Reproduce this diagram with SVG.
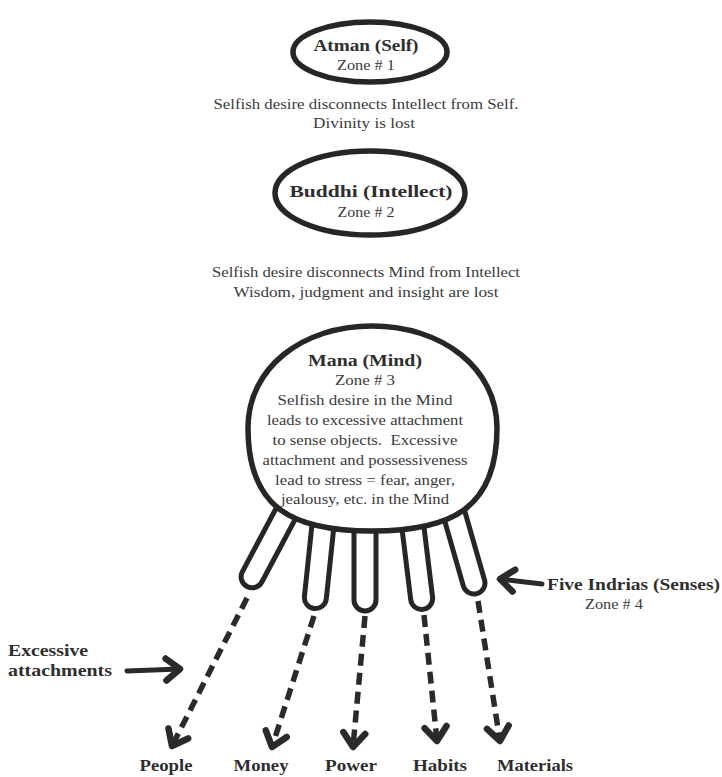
<svg xmlns="http://www.w3.org/2000/svg" width="722" height="777" viewBox="0 0 722 777">
<style>
.t{font-family:"Liberation Serif","Times New Roman",serif;font-size:15px;fill:#3a3a3a;text-anchor:middle}
.b{font-family:"Liberation Serif","Times New Roman",serif;font-size:17px;font-weight:bold;fill:#2e2e2e;text-anchor:middle}
.bl{font-family:"Liberation Serif","Times New Roman",serif;font-size:16px;font-weight:bold;fill:#2e2e2e}
.ring{fill:#fff;stroke:#262626;stroke-width:5.5}
.finger{fill:none;stroke:#262626;stroke-width:5;stroke-linejoin:round}
.dash{fill:none;stroke:#2a2a2a;stroke-width:5.5;stroke-dasharray:12 7;stroke-linecap:butt}
.solid{fill:none;stroke:#2a2a2a;stroke-width:5;stroke-linecap:round}
</style>
<defs>
<marker id="ah" viewBox="-20 -15 30 30" markerWidth="30" markerHeight="30" refX="0" refY="0" orient="auto" markerUnits="userSpaceOnUse">
<path d="M-14,-11 L0,0 L-14,11" fill="none" stroke="#2a2a2a" stroke-width="6.5" stroke-linecap="round" stroke-linejoin="round"/>
</marker>
</defs>
<rect width="722" height="777" fill="#fff"/>

<g id="atman">
<ellipse class="ring" cx="370" cy="52" rx="77" ry="30"/>
<text class="b" x="366" y="51" textLength="105" lengthAdjust="spacingAndGlyphs">Atman (Self)</text>
<text class="t" x="366" y="70" textLength="58" lengthAdjust="spacingAndGlyphs">Zone # 1</text>
</g>

<g id="note1">
<text class="t" x="366" y="109" textLength="305" lengthAdjust="spacingAndGlyphs">Selfish desire disconnects Intellect from Self.</text>
<text class="t" x="364" y="128" textLength="102" lengthAdjust="spacingAndGlyphs">Divinity is lost</text>
</g>

<g id="buddhi">
<ellipse class="ring" cx="370" cy="193" rx="95" ry="42"/>
<text class="b" x="371" y="197" textLength="163" lengthAdjust="spacingAndGlyphs">Buddhi (Intellect)</text>
<text class="t" x="366" y="217" textLength="57" lengthAdjust="spacingAndGlyphs">Zone # 2</text>
</g>

<g id="note2">
<text class="t" x="366" y="277" textLength="308" lengthAdjust="spacingAndGlyphs">Selfish desire disconnects Mind from Intellect</text>
<text class="t" x="366" y="297" textLength="265" lengthAdjust="spacingAndGlyphs">Wisdom, judgment and insight are lost</text>
</g>

<g id="senses">
<path class="finger" transform="translate(285,515) rotate(28)" d="M-11,-30 L-11,70 A11,11 0 0 0 11,70 L11,-30"/>
<path class="finger" transform="translate(323,525) rotate(6)" d="M-11,-30 L-11,73 A11,11 0 0 0 11,73 L11,-30"/>
<path class="finger" transform="translate(365,530)" d="M-11,-30 L-11,70 A11,11 0 0 0 11,70 L11,-30"/>
<path class="finger" transform="translate(413,528) rotate(-7)" d="M-11,-30 L-11,71 A11,11 0 0 0 11,71 L11,-30"/>
<path class="finger" transform="translate(453,510) rotate(-16)" d="M-11,-30 L-11,76 A11,11 0 0 0 11,76 L11,-30"/>
</g>

<g id="mana">
<path class="ring" d="M248,428 C248,368 302,326 372,326 C442,326 497,368 497,428 C497,508 452,531 372,531 C292,531 248,508 248,428 Z"/>
<text class="b" x="365" y="366" textLength="114" lengthAdjust="spacingAndGlyphs">Mana (Mind)</text>
<text class="t" x="365" y="385" textLength="60" lengthAdjust="spacingAndGlyphs">Zone # 3</text>
<text class="t" x="365" y="405" textLength="175" lengthAdjust="spacingAndGlyphs">Selfish desire in the Mind</text>
<text class="t" x="365" y="425" textLength="196" lengthAdjust="spacingAndGlyphs">leads to excessive attachment</text>
<text class="t" x="365" y="445" textLength="185" lengthAdjust="spacingAndGlyphs" xml:space="preserve">to sense objects.  Excessive</text>
<text class="t" x="365" y="465" textLength="205" lengthAdjust="spacingAndGlyphs">attachment and possessiveness</text>
<text class="t" x="365" y="485" textLength="180" lengthAdjust="spacingAndGlyphs">lead to stress = fear, anger,</text>
<text class="t" x="365" y="504" textLength="168" lengthAdjust="spacingAndGlyphs">jealousy, etc. in the Mind</text>
</g>

<g id="senses-label">
<text class="bl" x="547" y="590" textLength="173" lengthAdjust="spacingAndGlyphs">Five Indrias (Senses)</text>
<text class="t" x="614" y="609" textLength="58" lengthAdjust="spacingAndGlyphs">Zone # 4</text>
</g>

<g id="attach-label">
<text class="bl" x="8" y="656" textLength="80" lengthAdjust="spacingAndGlyphs">Excessive</text>
<text class="bl" x="8" y="676" textLength="104" lengthAdjust="spacingAndGlyphs">attachments</text>
</g>

<g id="targets">
<text class="b" x="166" y="771" textLength="53" lengthAdjust="spacingAndGlyphs">People</text>
<text class="b" x="261" y="771" textLength="55" lengthAdjust="spacingAndGlyphs">Money</text>
<text class="b" x="351" y="771" textLength="52" lengthAdjust="spacingAndGlyphs">Power</text>
<text class="b" x="440" y="771" textLength="54" lengthAdjust="spacingAndGlyphs">Habits</text>
<text class="b" x="535" y="771" textLength="76" lengthAdjust="spacingAndGlyphs">Materials</text>
</g>

<g id="connectors">
<path class="dash" d="M247,598 L172,746" marker-end="url(#ah)"/>
<path class="dash" d="M314,616 L272,747" marker-end="url(#ah)"/>
<path class="dash" d="M365,616 L353,747" marker-end="url(#ah)"/>
<path class="dash" d="M424,615 L437,741" marker-end="url(#ah)"/>
<path class="dash" d="M478,601 L500,741" marker-end="url(#ah)"/>
<path class="solid" d="M127,671 L180,669" marker-end="url(#ah)"/>
<path class="solid" d="M542,584 L500,579" marker-end="url(#ah)"/>
</g>
</svg>
